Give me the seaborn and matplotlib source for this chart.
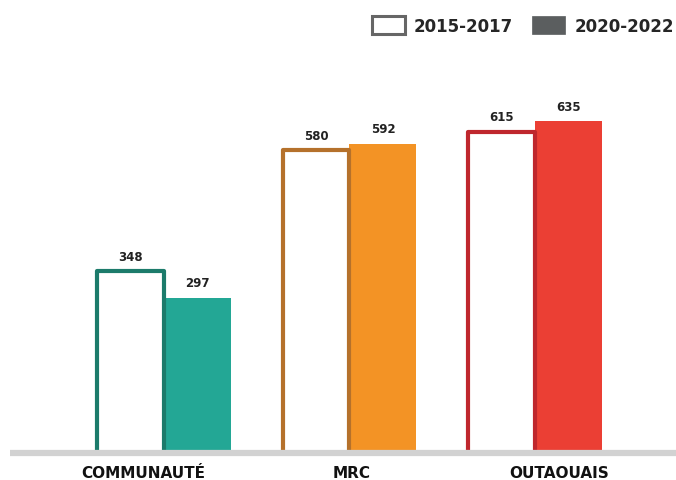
import matplotlib
matplotlib.use("Agg")
import matplotlib.pyplot as plt
from matplotlib.patches import Patch
import seaborn as sns
import pandas as pd

# Data
categories = ["COMMUNAUTÉ", "MRC", "OUTAOUAIS"]
periods = ["2015-2017", "2020-2022"]
values_2015_2017 = [348, 580, 615]
values_2020_2022 = [297, 592, 635]

# Styling per category: outline colour for the first period, fill colour for the second
outline_colors = ["#1c7b6b", "#b5712b", "#bf272d"]
fill_colors = ["#23a795", "#f39325", "#eb3f34"]

df = pd.DataFrame({
    "categorie": categories * 2,
    "periode": [periods[0]] * 3 + [periods[1]] * 3,
    "valeur": values_2015_2017 + values_2020_2022,
})

sns.set_theme(style="white")
plt.rcParams["font.family"] = ["DejaVu Sans"]

W, H = 676, 481
fig = plt.figure(figsize=(W / 100, H / 100), dpi=100)
ax = fig.add_axes([10 / W, 27 / H, 1 - 10 / W, (454 - 62) / H])

sns.barplot(data=df, x="categorie", y="valeur", hue="periode",
            order=categories, hue_order=periods, width=0.72,
            dodge=True, legend=False, ax=ax)

ax.set_xlim(-0.83, 2.76)
ax.set_ylim(0, 750)

first, second = ax.containers[0], ax.containers[1]
for i, (bo, bf) in enumerate(zip(first, second)):
    bo.set_facecolor("white")
    bo.set_edgecolor(outline_colors[i])
    bo.set_linewidth(3)
    bo.set_joinstyle("round")
    bo.set_zorder(3)
    bf.set_facecolor(fill_colors[i])
    bf.set_edgecolor("none")
    bf.set_linewidth(0)
    bf.set_zorder(2)

# Value labels above each bar
for cont, vals in ((first, values_2015_2017), (second, values_2020_2022)):
    for bar, v in zip(cont, vals):
        ax.annotate(f"{v}", (bar.get_x() + bar.get_width() / 2, v),
                    xytext=(0, 6), textcoords="offset points",
                    ha="center", va="bottom", fontsize=8.5,
                    fontweight="bold", color="#222222")

# Baseline
ax.axhline(0, color="#d2d2d2", lw=4.5, zorder=5, clip_on=False,
           solid_capstyle="butt")

for s in ax.spines.values():
    s.set_visible(False)
ax.set_yticks([])
ax.set_xlabel("")
ax.set_ylabel("")
ax.tick_params(axis="x", length=0, pad=9)
# category labels sit on a slightly wider grid than the bar groups
ax.set_xticks([-0.11, 1.013, 2.13])
ax.set_xticklabels(categories, fontsize=11, fontweight="bold", color="#111111")

# Legend
handles = [
    Patch(facecolor="white", edgecolor="#666666", linewidth=2.2, label=periods[0]),
    Patch(facecolor="#5b5e5f", edgecolor="#5b5e5f", linewidth=0.5, label=periods[1]),
]
fig.legend(handles=handles, loc="upper right", bbox_to_anchor=(1.015, 0.99),
           ncol=2, frameon=False, handlelength=2.0, handleheight=1.3,
           handletextpad=0.55, columnspacing=1.1, borderaxespad=0.35,
           prop={"weight": "bold", "size": 12})

fig.savefig("out.png", dpi=100, facecolor="white")
